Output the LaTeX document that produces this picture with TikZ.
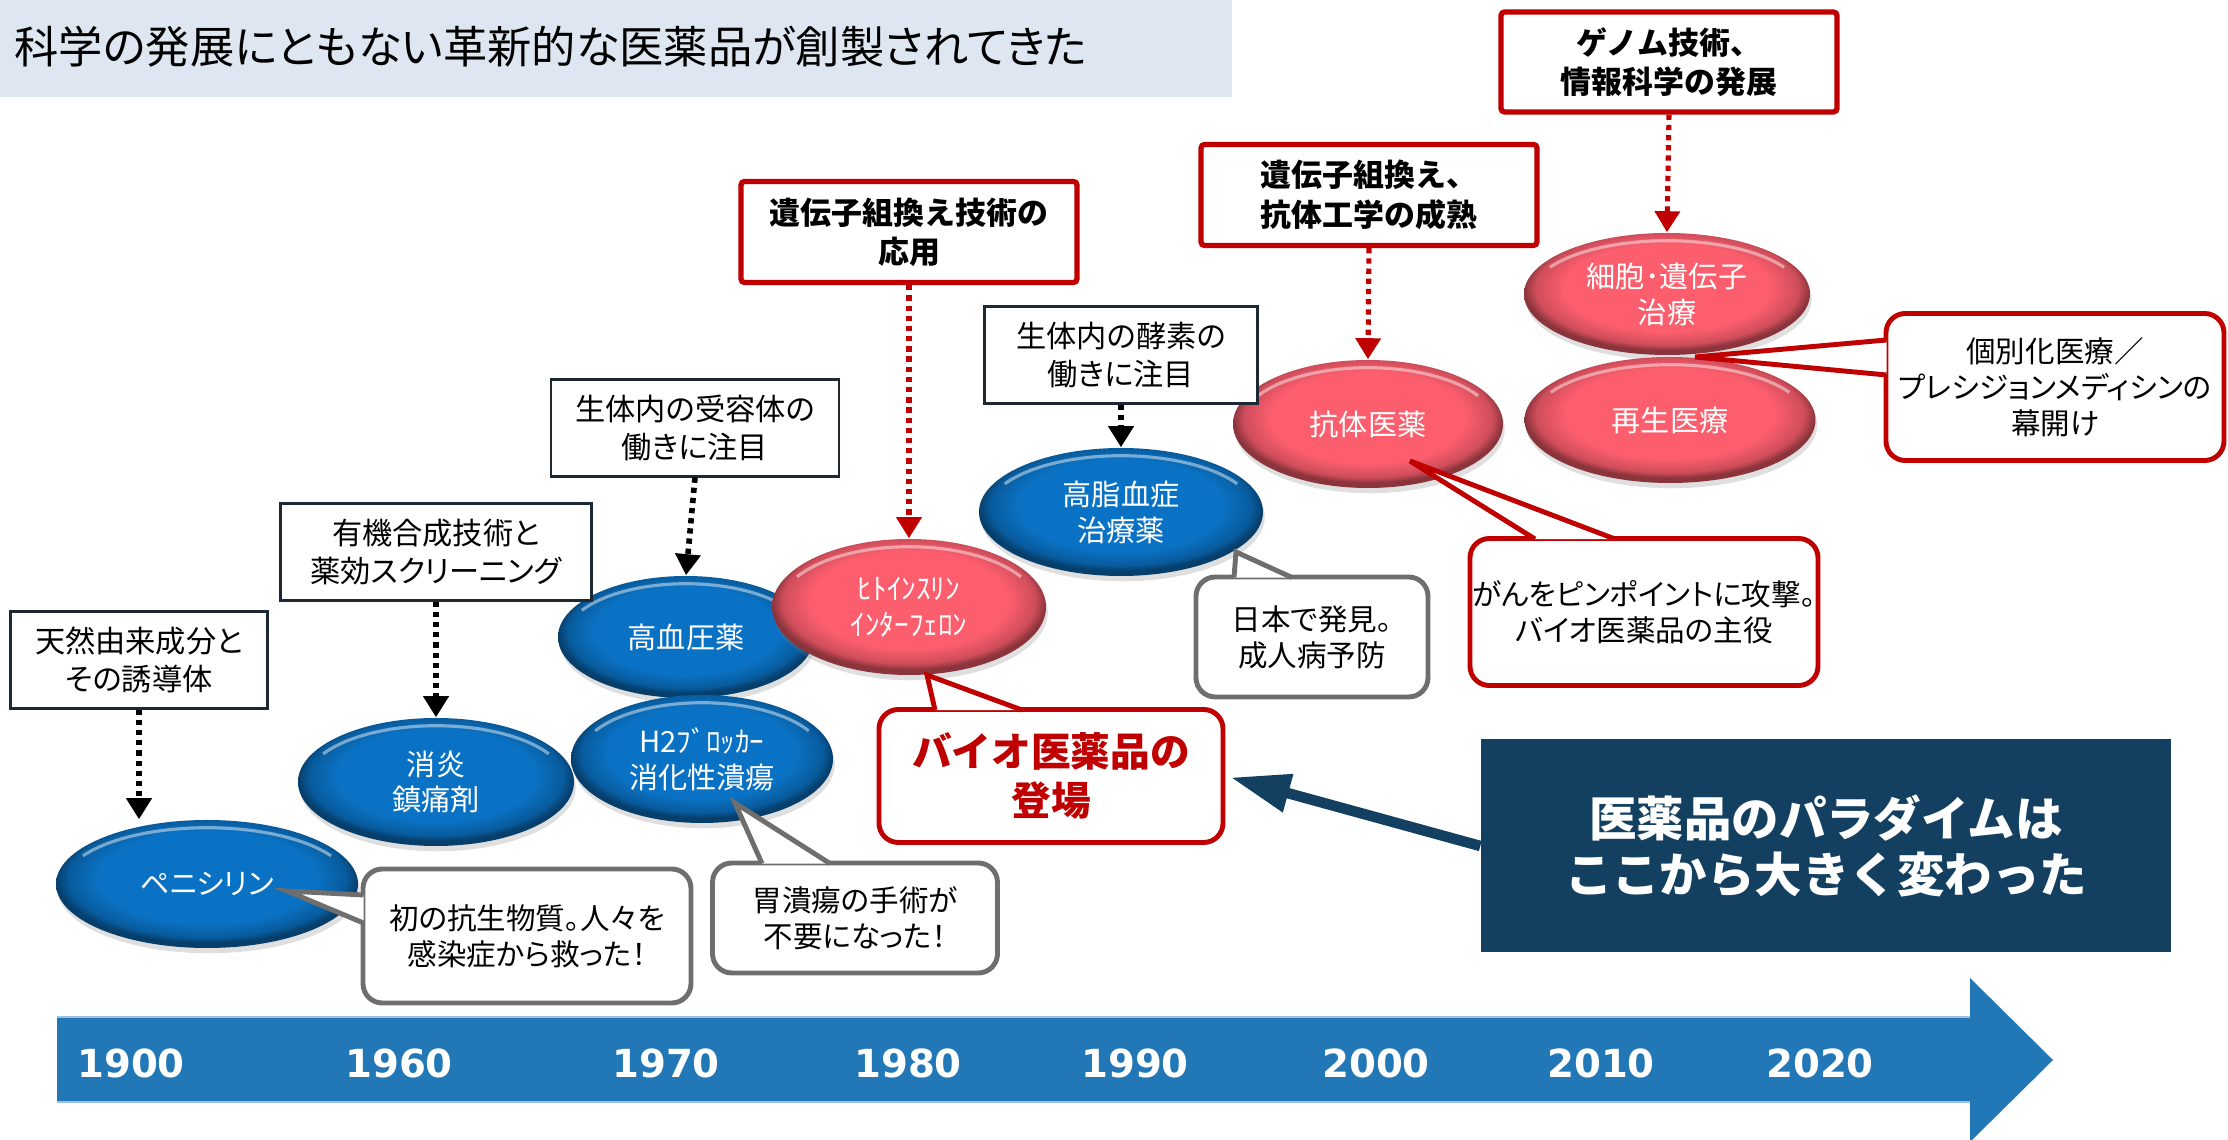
\documentclass[tikz,border=0pt]{standalone}
\usepackage{fontspec}
\setmainfont{Noto Sans CJK JP}[RawFeature=+palt]
\newfontfamily\heavyjp{Noto Sans CJK JP}
\newfontfamily\yearfont{DejaVu Sans}
\usetikzlibrary{shapes.geometric,arrows.meta,shadows,calc}

\definecolor{pillblue}{RGB}{10,114,196}
\definecolor{pillred}{RGB}{252,94,110}
\definecolor{darkred}{RGB}{192,0,0}
\definecolor{navy}{RGB}{19,63,96}
\definecolor{bandblue}{RGB}{222,231,241}
\definecolor{axisblue}{RGB}{34,120,183}
\definecolor{boxline}{RGB}{28,40,52}
\definecolor{notegray}{RGB}{110,110,110}

\pgfdeclareradialshading{bluepillshade}{\pgfpoint{0bp}{4bp}}{color(0bp)=(pillblue); color(18bp)=(pillblue); color(23bp)=(pillblue!80!black); color(25bp)=(pillblue!55!black); color(50bp)=(pillblue!55!black)}
\pgfdeclareradialshading{redpillshade}{\pgfpoint{0bp}{4bp}}{color(0bp)=(pillred); color(18bp)=(pillred); color(23bp)=(pillred!82!black); color(25bp)=(pillred!55!black); color(50bp)=(pillred!55!black)}

\newcommand{\titletext}{\fontsize{12.6pt}{15pt}\selectfont}
\newcommand{\pilltext}{\fontsize{8.3pt}{10.2pt}\selectfont}
\newcommand{\boxtext}{\fontsize{8.6pt}{10.8pt}\selectfont}
\newcommand{\techtext}{\heavyjp\bfseries\fontsize{8.8pt}{11.2pt}\selectfont}
\newcommand{\notetext}{\fontsize{8.4pt}{10.2pt}\selectfont}
\newcommand{\biotext}{\heavyjp\bfseries\fontsize{11.3pt}{14.2pt}\selectfont}
\newcommand{\shifttext}{\heavyjp\bfseries\fontsize{13.5pt}{16.2pt}\selectfont}
\newcommand{\yeartext}{\yearfont\bfseries\fontsize{11pt}{13pt}\selectfont}

\newlength{\pxu}
\setlength{\pxu}{0.1mm}

\begin{document}
\begin{tikzpicture}[x=0.1mm,y=-0.1mm]
	\tikzstyle{bluepill}=[ellipse,inner sep=0pt,shade,shading=bluepillshade,drop shadow={shadow xshift=0.5pt,shadow yshift=-1.5pt,opacity=0.25},text=white,align=center,font=\pilltext,
		path picture={\draw[white,opacity=0.45,line width=0.9pt] let \p1=(path picture bounding box.north east), \p2=(path picture bounding box.center), \n1={\x1-\x2-2.2pt}, \n2={\y1-\y2-2.2pt} in ($(\p2)+(150:\n1 and \n2)$) arc[start angle=150,end angle=30,x radius=\n1,y radius=\n2];}]
	\tikzstyle{redpill}=[bluepill,shading=redpillshade]
	\tikzstyle{factbox}=[rectangle,draw=boxline,line width=0.6pt,fill=white,align=center,font=\boxtext,inner sep=0pt]
	\tikzstyle{techbox}=[rectangle,draw=darkred,line width=1.5pt,rounded corners=1pt,fill=white,align=center,font=\techtext,inner sep=0pt]
	\tikzstyle{graynote}=[rectangle,draw=notegray,line width=1.4pt,rounded corners=5.5pt,fill=white,align=center,font=\notetext,inner sep=0pt]
	\tikzstyle{rednote}=[graynote,draw=darkred]
	\tikzstyle{grayptr}=[draw=notegray,line width=1.4pt,fill=white,line join=miter]
	\tikzstyle{redptr}=[grayptr,draw=darkred]
	\tikzstyle{blackdots}=[line width=1.6pt,dash pattern=on 1.5pt off 1.4pt,-{Triangle[width=7pt,length=6pt]}]
	\tikzstyle{reddots}=[blackdots,draw=darkred,line width=1.45pt]
	\tikzstyle{year}=[text=white,font=\yeartext]

	\useasboundingbox (0,0) rectangle (2228,1140);

	% title band
	\fill[bandblue] (0,0) rectangle (1232,97);
	\node[anchor=west,font=\titletext,inner sep=0pt] (title) at (14,47) {科学の発展にともない革新的な医薬品が創製されてきた};

	% time axis
	\fill[axisblue] (57,1017) -- (1970,1017) -- (1970,978) -- (2053,1060) -- (1970,1142) -- (1970,1102) -- (57,1102) -- cycle;
	\draw[axisblue!45!white,line width=0.5pt] (57,1017) -- (1970,1017);
	\draw[axisblue!45!white,line width=0.5pt] (57,1102) -- (1970,1102);
	\node[year] (y1900) at (131,1063) {1900};
	\node[year] (y1960) at (399,1063) {1960};
	\node[year] (y1970) at (666,1063) {1970};
	\node[year] (y1980) at (908,1063) {1980};
	\node[year] (y1990) at (1135,1063) {1990};
	\node[year] (y2000) at (1376,1063) {2000};
	\node[year] (y2010) at (1601,1063) {2010};
	\node[year] (y2020) at (1820,1063) {2020};

	% drugs
	\node[bluepill,minimum width=302\pxu,minimum height=128\pxu] (penicillin) at (207,884) {ペニシリン};
	\node[bluepill,minimum width=276\pxu,minimum height=128\pxu] (nsaid) at (436,782) {消炎\\鎮痛剤};
	\node[bluepill,minimum width=256\pxu,minimum height=122\pxu] (hypertension) at (686,637) {高血圧薬};
	\node[bluepill,minimum width=262\pxu,minimum height=128\pxu] (htwo) at (702,759) {H2ﾌﾞﾛｯｶｰ\\消化性潰瘍};
	\node[redpill,minimum width=274\pxu,minimum height=136\pxu] (insulin) at (909,607) {ﾋﾄｲﾝｽﾘﾝ\\ｲﾝﾀｰﾌｪﾛﾝ};
	\node[bluepill,minimum width=284\pxu,minimum height=128\pxu] (lipid) at (1121,512) {高脂血症\\治療薬};
	\node[redpill,minimum width=270\pxu,minimum height=128\pxu] (antibody) at (1368,424) {抗体医薬};
	\node[redpill,minimum width=286\pxu,minimum height=122\pxu] (genetherapy) at (1667,294) {細胞･遺伝子\\治療};
	\node[redpill,minimum width=291\pxu,minimum height=126\pxu] (regen) at (1670,420) {再生医療};

	% origins
	\node[factbox,minimum width=257\pxu,minimum height=97\pxu] (natural) at (139,660) {天然由来成分と\\その誘導体};
	\node[factbox,minimum width=311\pxu,minimum height=97\pxu] (synthesis) at (436,552) {有機合成技術と\\薬効スクリーニング};
	\node[factbox,minimum width=288\pxu,minimum height=97\pxu] (receptor) at (695,428) {生体内の受容体の\\働きに注目};
	\node[factbox,minimum width=273\pxu,minimum height=97\pxu] (enzyme) at (1121,355) {生体内の酵素の\\働きに注目};
	\node[techbox,minimum width=336\pxu,minimum height=101\pxu] (recomb) at (909,232) {遺伝子組換え技術の\\応用};
	\node[techbox,minimum width=336\pxu,minimum height=101\pxu] (antieng) at (1369,195) {遺伝子組換え、\\抗体工学の成熟};
	\node[techbox,minimum width=336\pxu,minimum height=100\pxu] (genome) at (1669,62) {ゲノム技術、\\情報科学の発展};

	\draw[blackdots] (natural.south) -- (natural.south |- penicillin.north);
	\draw[blackdots] (synthesis.south) -- (nsaid.north);
	\draw[blackdots] (receptor.south) -- (hypertension.north);
	\draw[blackdots] (enzyme.south) -- (lipid.north);
	\draw[reddots] (recomb.south) -- (insulin.north);
	\draw[reddots] (antieng.south) -- (antibody.north);
	\draw[reddots] (genome.south) -- (genetherapy.north);

	% notes
	\node[graynote,minimum width=328\pxu,minimum height=134\pxu] (penicillinNote) at (527,936) {初の抗生物質。人々を\\感染症から救った！};
	\coordinate (penicillinTip) at (287,891);
	\path[grayptr] ($(penicillinNote.west)+(3,-41)$) -- (penicillinTip) -- ($(penicillinNote.west)+(3,-13)$);

	\node[graynote,minimum width=285\pxu,minimum height=110\pxu] (ulcerNote) at (855,918) {胃潰瘍の手術が\\不要になった！};
	\coordinate (ulcerTip) at (735,803);
	\path[grayptr] ($(ulcerNote.north)+(-93,3)$) -- (ulcerTip) -- ($(ulcerNote.north)+(-25,3)$);

	\node[graynote,minimum width=232\pxu,minimum height=120\pxu] (japanNote) at (1312,637) {日本で発見。\\成人病予防};
	\coordinate (japanTip) at (1236,552);
	\path[grayptr] ($(japanNote.north)+(-78,3)$) -- (japanTip) -- ($(japanNote.north)+(-20,3)$);

	\node[rednote,minimum width=348\pxu,minimum height=147\pxu] (antibodyNote) at (1644,612) {がんをピンポイントに攻撃。\\バイオ医薬品の主役};
	\coordinate (antibodyTip) at (1410,461);
	\path[redptr] ($(antibodyNote.north)+(-109,3)$) -- (antibodyTip) -- ($(antibodyNote.north)+(-29,3)$);

	\node[rednote,minimum width=338\pxu,minimum height=147\pxu] (precisionNote) at (2055,387) {個別化医療／\\プレシジョンメディシンの\\幕開け};
	\coordinate (precisionTip) at (1695,357);
	\path[redptr] ($(precisionNote.west)+(3,-47)$) -- (precisionTip) -- ($(precisionNote.west)+(3,-12)$);

	\node[rednote,minimum width=344\pxu,minimum height=133\pxu,text=darkred,font=\biotext] (bioNote) at (1051,776) {バイオ医薬品の\\登場};
	\coordinate (bioTip) at (927,675);
	\path[redptr] ($(bioNote.north)+(-116,3)$) -- (bioTip) -- ($(bioNote.north)+(-29,3)$);

	% paradigm shift
	\node[fill=navy,minimum width=690\pxu,minimum height=213\pxu,text=white,font=\shifttext,align=center,inner sep=0pt] (shiftBox) at (1826,846) {医薬品のパラダイムは\\ここから大きく変わった};
	\draw[navy,line width=3pt,-{Triangle[length=17pt,width=10.5pt]},shorten >=1.5pt] (shiftBox.west) -- (bioNote.east);
\end{tikzpicture}
\end{document}
